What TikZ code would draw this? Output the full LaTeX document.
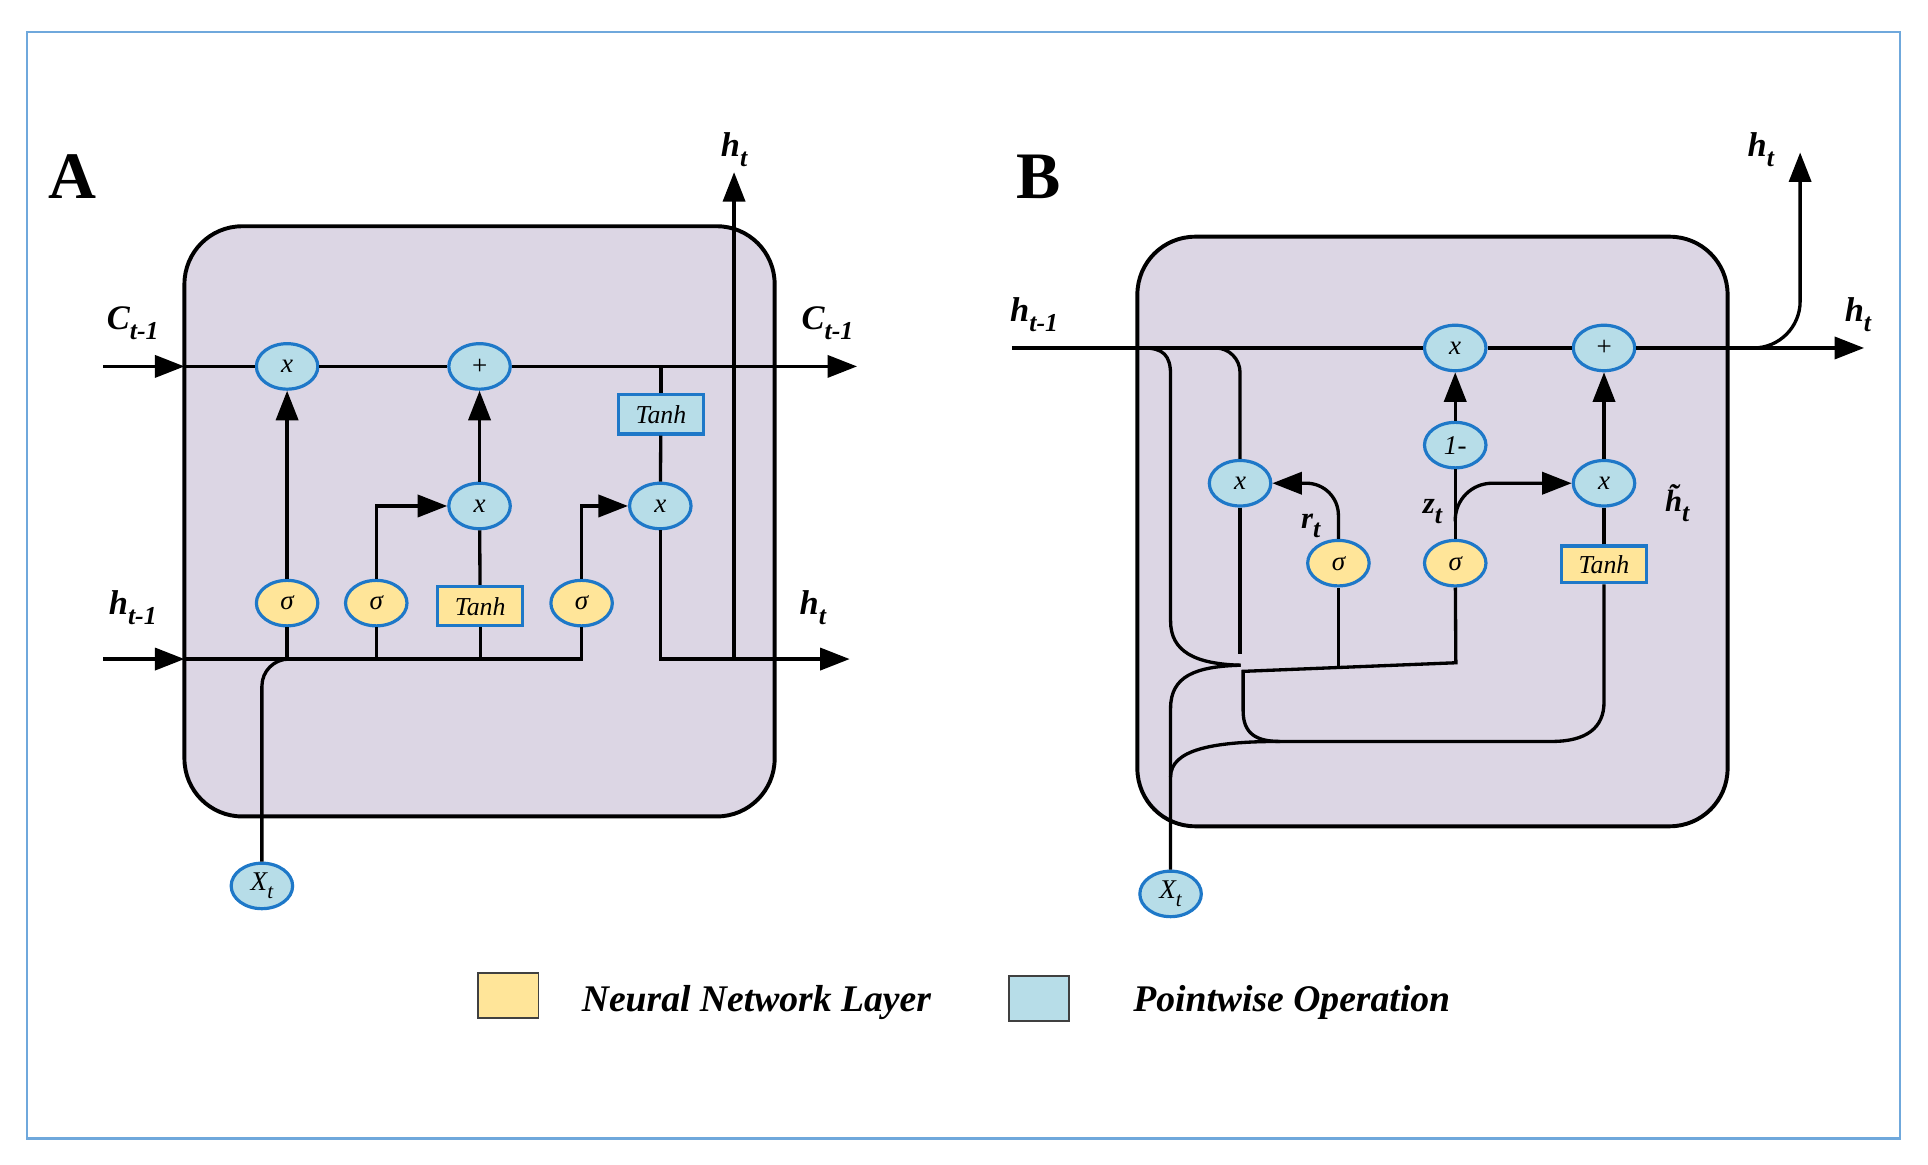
\documentclass[tikz,border=0pt]{standalone}
\usepackage{fontspec}
\setmainfont{Liberation Serif}
\usetikzlibrary{arrows.meta,shapes.geometric}
\definecolor{frameblue}{HTML}{6FA8DC}
\definecolor{cellfill}{HTML}{DCD6E4}
\definecolor{opfill}{HTML}{B7DDE8}
\definecolor{opborder}{HTML}{1E78C8}
\definecolor{nnfill}{HTML}{FFE599}
\newcommand\mysub[1]{\raisebox{-0.3em}{\fontsize{21}{21}\selectfont #1}}
\newcommand\smsub[1]{\raisebox{-0.3em}{\fontsize{17}{17}\selectfont #1}}
\tikzset{
  wire/.style={line width=2.7pt, black},
  arr/.style={wire, -{Triangle[length=24pt,width=18pt]}},
  cell/.style={draw=black, line width=3.2pt, fill=cellfill, rounded corners=47pt},
  op/.style={ellipse, draw=opborder, line width=2.6pt, fill=opfill, minimum width=50pt, minimum height=37pt, inner sep=0pt, font=\fontsize{22}{22}\selectfont\itshape},
  nnop/.style={op, fill=nnfill},
  nnbox/.style={rectangle, draw=opborder, line width=2.6pt, fill=nnfill, minimum width=69pt, minimum height=32pt, inner sep=0pt, font=\fontsize{21}{21}\selectfont\itshape},
  opbox/.style={nnbox, fill=opfill},
  lab/.style={font=\fontsize{28}{28}\selectfont\bfseries\itshape, inner sep=0pt},
  smlab/.style={font=\fontsize{25}{25}\selectfont\bfseries\itshape, inner sep=0pt},
  panel/.style={font=\fontsize{54}{54}\selectfont\bfseries, inner sep=0pt},
  legtext/.style={font=\fontsize{30.6}{31}\selectfont\bfseries\itshape, inner sep=0pt, anchor=base west},
  legbox/.style={draw=black!75, line width=1.5pt, minimum width=49pt, minimum height=37pt, inner sep=0pt},
}
\begin{document}
\begin{tikzpicture}[x=1pt,y=-1pt]
\useasboundingbox (0,0) rectangle (1568,947);
\draw[frameblue, line width=2pt] (22,26) rectangle (1545,926);

%%%%%%%%%%%%%%%% Panel A (LSTM)
\draw[cell] (150,184) rectangle (630,664);
\node[panel] (labA) at (59,144) {A};

\node[op] (a_x1) at (233.5,298) {x};
\node[op] (a_plus) at (390,298) {+};
\node[op] (a_x2) at (390,411.5) {x};
\node[op] (a_x3) at (537,411.5) {x};
\node[opbox] (a_tanh1) at (537.5,337) {Tanh};
\node[nnop] (a_s1) at (233.5,490.5) {σ};
\node[nnop] (a_s2) at (306,490.5) {σ};
\node[nnbox] (a_tanh2) at (390.5,493) {Tanh};
\node[nnop] (a_s3) at (473,490.5) {σ};
\node[op] (a_xt) at (213,720.5) {X\smsub{t}};

\coordinate (a_cin) at (84,298);
\coordinate (a_cedge) at (150,298);
\coordinate (a_cout) at (697,298);
\coordinate (a_ctap) at (537.5,298);
\coordinate (a_hin) at (84,536);
\coordinate (a_hedge) at (150,536);
\coordinate (a_hend) at (473,536);
\coordinate (a_hout) at (691,536);
\coordinate (a_hup) at (597,536);
\coordinate (a_htop) at (597,140);

\draw[arr] (a_cin) -- (a_cedge);
\draw[wire] (a_cedge) -- (a_x1);
\draw[wire] (a_x1) -- (a_plus);
\draw[arr] (a_plus) -- (a_cout);
\draw[wire] (a_ctap) -- (a_tanh1);
\draw[wire] (a_tanh1) -- (a_x3);
\draw[arr] (a_s1) -- (a_x1);
\draw[arr] (a_x2) -- (a_plus);
\draw[wire] (a_tanh2) -- (a_x2);
\draw[arr] (a_s2) |- (a_x2);
\draw[arr] (a_s3) |- (a_x3);
\draw[arr] (a_hin) -- (a_hedge);
\draw[wire] (a_hedge) -- (a_hend) -- (a_s3);
\draw[wire] (a_s1) -- (a_s1 |- a_hin);
\draw[wire] (a_s2) -- (a_s2 |- a_hin);
\draw[wire] (a_tanh2) -- (a_tanh2 |- a_hin);
\draw[wire,rounded corners=22pt] (a_xt) -- (a_xt |- a_hin) -- (a_s1 |- a_hin);
\draw[arr] (a_x3) |- (a_hout);
\draw[arr] (a_hup) -- (a_htop);

\node[lab] (a_lc1) at (108,263) {C\mysub{t-1}};
\node[lab] (a_lc2) at (673,263) {C\mysub{t-1}};
\node[lab] (a_lh1) at (108,494) {h\mysub{t-1}};
\node[lab] (a_lh2) at (661,494) {h\mysub{t}};
\node[lab] (a_lh3) at (597,122) {h\mysub{t}};

%%%%%%%%%%%%%%%% Panel B (GRU)
\draw[cell] (925,192.5) rectangle (1405,672);
\node[panel] (labB) at (845,144) {B};

\node[op] (b_x1) at (1183.5,283) {x};
\node[op] (b_plus) at (1304.5,283) {+};
\node[op] (b_om) at (1183.5,362) {1-};
\node[op] (b_xl) at (1008.5,393) {x};
\node[op] (b_xr) at (1304.5,393) {x};
\node[nnop] (b_sr) at (1088.5,458) {σ};
\node[nnop] (b_sz) at (1183.5,458) {σ};
\node[nnbox, minimum height=30pt] (b_tanh) at (1304.5,459) {Tanh};
\node[op] (b_xt) at (952,727) {X\smsub{t}};

\coordinate (b_hin) at (823,283);
\coordinate (b_hout) at (1516,283);
\coordinate (b_up0) at (1422,283);
\coordinate (b_upc) at (1464,283);
\coordinate (b_uptop) at (1464,124);
\coordinate (b_rbend) at (1088.5,393);
\coordinate (b_zbr) at (1183.5,424);
\coordinate (b_zbend) at (1183.5,393);
\coordinate (b_br1) at (925,283);
\coordinate (b_br2) at (984,283);
\coordinate (b_br2c) at (1008.5,283);
\coordinate (b_xlend) at (1008.5,532);
\coordinate (b_cusp) at (1009,541);
\coordinate (b_zbus) at (1184,539);
\coordinate (b_jn) at (1011,546);
\coordinate (b_srbus) at (1088.5,543);
\coordinate (b_xbr) at (952,632);
\coordinate (b_low) at (1041,603);

\draw[wire] (b_hin) -- (b_x1);
\draw[wire] (b_x1) -- (b_plus);
\draw[arr] (b_plus) -- (b_hout);
\draw[arr, rounded corners=38pt] (b_up0) -- (b_upc) -- (b_uptop);
\draw[arr] (b_om) -- (b_x1);
\draw[wire] (b_sz) -- (b_om);
\draw[arr] (b_xr) -- (b_plus);
\draw[wire] (b_tanh) -- (b_xr);
\draw[arr, rounded corners=26pt] (b_sr) -- (b_rbend) -- (b_xl);
\draw[arr, rounded corners=30pt] (b_zbr) -- (b_zbend) -- (b_xr);
\draw[wire] (b_br1) -- (930,283) .. controls (946,283) and (952,289) .. (952,305) -- (952,505) .. controls (952,530) and (972,540) .. (b_cusp);
\draw[wire, rounded corners=20pt] (b_br2) -- (b_br2c) -- (b_xl);
\draw[wire] (b_xl) -- (b_xlend);
\draw[wire] (b_sz) -- (b_zbus) -- (b_jn) -- (1011,578) .. controls (1011,597) and (1022,603) .. (b_low) -- (1262,603) .. controls (1290,603) and (1304.5,592) .. (1304.5,571) -- (b_tanh);
\draw[wire] (b_sr) -- (b_srbus);
\draw[wire] (b_xt) -- (952,576) .. controls (952,550) and (972,542) .. (b_cusp);
\draw[wire] (b_xbr) .. controls (952,610) and (985,603) .. (b_low);

\node[lab] (b_lh1) at (841,256) {h\mysub{t-1}};
\node[lab] (b_lh2) at (1511,256) {h\mysub{t}};
\node[lab] (b_lh3) at (1432,122) {h\mysub{t}};
\node[smlab] (b_lr) at (1066,428) {r\mysub{t}};
\node[smlab] (b_lz) at (1165,416) {z\mysub{t}};
\node[smlab] (b_lht) at (1364,409) {\~{h}\mysub{t}};

%%%%%%%%%%%%%%%% Legend
\node[legbox, fill=nnfill] (leg1) at (413.5,809.5) {};
\node[legtext] (leg1t) at (473,823) {Neural Network Layer};
\node[legbox, fill=opfill] (leg2) at (845,812) {};
\node[legtext] (leg2t) at (921.5,823) {Pointwise Operation};
\end{tikzpicture}
\end{document}
